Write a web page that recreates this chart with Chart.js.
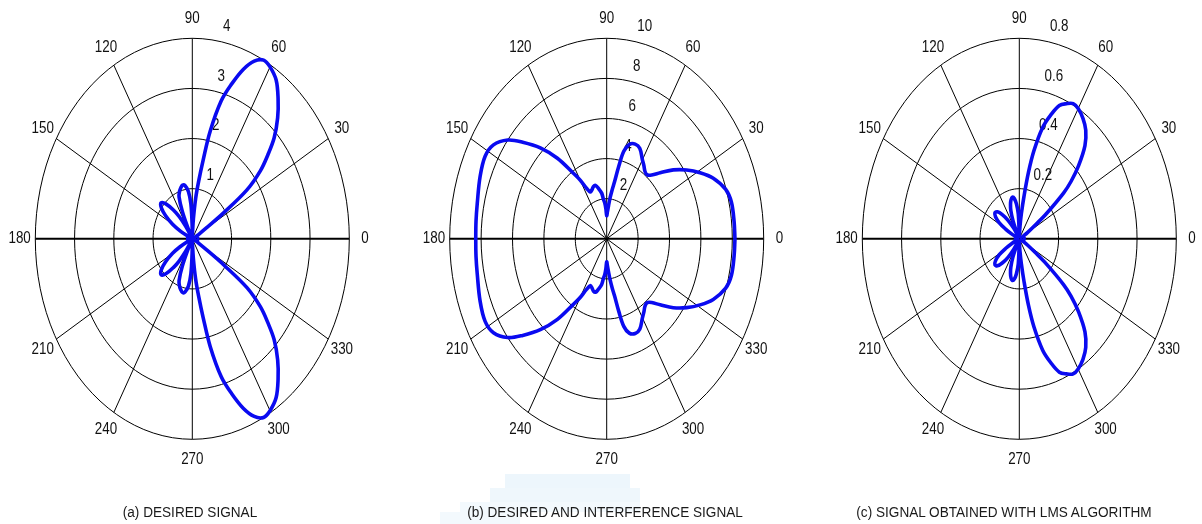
<!DOCTYPE html>
<html><head><meta charset="utf-8">
<script src="https://cdn.jsdelivr.net/npm/chart.js@4.4.0/dist/chart.umd.min.js"></script>
<style>
html,body{margin:0;padding:0;background:#fff;width:1202px;height:524px;overflow:hidden;}
body{position:relative;}
canvas{position:absolute;top:0;}
.cap{position:absolute;top:505px;height:16px;line-height:16px;font-family:"Liberation Sans",Arial,sans-serif;font-size:13.6px;color:#1a1a1a;text-align:center;white-space:nowrap;transform:scaleY(1.1);}
.blk{position:absolute;}
</style></head><body>
<div class="blk" style="left:505px;top:474px;width:125px;height:14px;background:rgba(214,234,248,0.45)"></div>
<div class="blk" style="left:490px;top:488px;width:150px;height:14px;background:rgba(214,234,248,0.4)"></div>
<div class="blk" style="left:460px;top:502px;width:180px;height:10px;background:rgba(222,238,250,0.35)"></div>
<div class="blk" style="left:440px;top:512px;width:80px;height:12px;background:rgba(222,238,250,0.35)"></div>
<canvas id="ca" width="400" height="524" style="left:0px"></canvas>
<canvas id="cb" width="410" height="524" style="left:400px"></canvas>
<canvas id="cc" width="392" height="524" style="left:810px"></canvas>
<div class="cap" style="left:40px;width:300px">(a) DESIRED SIGNAL</div>
<div class="cap" style="left:405px;width:400px">(b) DESIRED AND INTERFERENCE SIGNAL</div>
<div class="cap" style="left:804px;width:400px">(c) SIGNAL OBTAINED WITH LMS ALGORITHM</div>
<script>
// ---- angular tick labels (degrees) ----
const angleTicks = [0,30,60,90,120,150,180,210,240,270,300,330];

// ---- (a) desired signal ----
const ringsA = [1,2,3,4];
const anglesA = [0,6,12,18,24,28,31,33,35,38,41,44,48,52,56,60,63,66,69,72,75,78,80,82,84,86,88,90,91,93,96,100,103,106,109,112,115,118,120,124,127,130,134,138,142,146,150,153,156,159,166,172,180,
  188,194,201,204,207,210,214,218,222,226,230,233,236,240,242,245,248,251,254,257,260,264,267,269,270,272,274,276,278,280,282,285,288,291,294,297,300,304,308,312,316,319,322,325,327,329,332,336,342,348,354,360];
const radiiA = [0.12,0.14,0.1,0.05,0.08,0.18,0.4,0.95,1.7,2.2,2.55,2.9,3.25,3.55,3.82,3.96,4.0,3.88,3.62,3.25,2.85,2.2,1.6,1.15,0.8,0.4,0.1,0.05,0.3,0.7,0.95,1.08,1.1,1.06,1.0,0.9,0.6,0.2,0.05,0.3,0.55,0.75,0.97,1.07,1.0,0.82,0.58,0.35,0.12,0.03,0.1,0.12,0.1,
  0.12,0.1,0.03,0.12,0.35,0.58,0.82,1.0,1.07,0.97,0.75,0.55,0.3,0.05,0.2,0.6,0.9,1.0,1.06,1.1,1.08,0.95,0.7,0.3,0.05,0.1,0.4,0.8,1.15,1.6,2.2,2.85,3.25,3.62,3.88,4.0,3.96,3.82,3.55,3.25,2.9,2.55,2.2,1.7,0.95,0.4,0.18,0.08,0.05,0.1,0.14,0.12];

// ---- (b) desired and interference signal ----
const ringsB = [2,4,6,8,10];
const anglesB = [0,6,13,18,24,29,34,39,44,48,51,54,57,60,65,69,73,76,78,80,82,84,86,88,90,92,94,96,98,102,105,108,111,114,117,120,123,128,133,138,142,147,152,159,168,174,180,
  186,192,201,208,213,218,222,227,232,237,240,243,246,249,252,255,258,262,264,266,268,270,272,274,276,278,280,282,284,287,291,295,300,303,306,309,312,316,321,326,331,336,342,347,354,360];
const radiiB = [8.17,8.16,8.15,7.97,7.43,6.8,6.14,5.46,4.74,4.28,4.1,4.15,4.35,4.55,4.98,5.06,4.92,4.5,3.7,2.9,2.45,2.05,1.65,1.35,1.15,1.5,1.8,1.98,2.3,2.58,2.76,2.74,2.62,2.56,2.83,3.38,3.9,5.1,6.2,7.2,8.0,8.6,8.77,8.64,8.43,8.37,8.34,
  8.37,8.43,8.64,8.77,8.6,8.0,7.2,6.2,5.1,3.9,3.38,2.83,2.56,2.62,2.74,2.76,2.58,2.3,1.98,1.8,1.5,1.15,1.35,1.65,2.05,2.45,2.9,3.7,4.5,4.92,5.06,4.98,4.55,4.35,4.15,4.1,4.28,4.74,5.46,6.14,6.8,7.43,7.97,8.15,8.16,8.17];

// ---- (c) signal obtained with LMS algorithm ----
const ringsC = [0.2,0.4,0.6,0.8];
const anglesC = [0,8,16,22,27,31,34,36,39,41,44,48,52,56,60,63,66,69,72,75,78,80,82,84,86,88,90,93,96,99,102,105,108,111,114,117,120,124,128,132,136,140,144,148,151,154,157,164,172,180,
  188,196,203,206,209,212,216,220,224,228,232,236,240,243,246,249,252,255,258,261,264,267,270,272,274,276,278,280,282,285,288,291,294,297,300,304,308,312,316,319,321,324,326,329,333,338,344,352,360];
const radiiC = [0.02,0.025,0.02,0.01,0.02,0.05,0.1,0.17,0.29,0.35,0.42,0.5,0.55,0.58,0.6,0.605,0.59,0.57,0.52,0.46,0.36,0.27,0.17,0.1,0.05,0.015,0.01,0.1,0.14,0.163,0.17,0.162,0.145,0.12,0.08,0.03,0.01,0.05,0.095,0.13,0.155,0.162,0.15,0.12,0.08,0.04,0.01,0.015,0.02,0.015,
  0.02,0.015,0.01,0.04,0.08,0.12,0.15,0.162,0.155,0.13,0.095,0.05,0.01,0.03,0.08,0.12,0.145,0.162,0.17,0.163,0.14,0.1,0.01,0.015,0.05,0.1,0.17,0.27,0.36,0.46,0.52,0.57,0.59,0.605,0.6,0.58,0.55,0.5,0.42,0.35,0.29,0.17,0.1,0.05,0.02,0.01,0.02,0.025,0.02];

const FONT = '13.4px "Liberation Sans", Arial, sans-serif';
const STRETCH = 1.26;
const D2R = Math.PI / 180;

function toXY(angles, radii) {
  return angles.map((t, i) => ({ x: radii[i] * Math.cos(t * D2R), y: radii[i] * Math.sin(t * D2R) }));
}

function stretchedText(ctx, txt, x, y, align) {
  ctx.save();
  ctx.translate(x, y);
  ctx.scale(1, STRETCH);
  ctx.textAlign = align;
  ctx.textBaseline = 'middle';
  ctx.fillText(txt, 0, 0);
  ctx.restore();
}

const polarGrid = {
  id: 'polarGrid',
  beforeDatasetsDraw(chart, args, opts) {
    const ctx = chart.ctx, sx = chart.scales.x, sy = chart.scales.y;
    const rings = opts.rings, rmax = rings[rings.length - 1];
    const P = (r, t) => [sx.getPixelForValue(r * Math.cos(t * D2R)), sy.getPixelForValue(r * Math.sin(t * D2R))];
    ctx.save();
    ctx.strokeStyle = '#000';
    ctx.lineWidth = 1;
    rings.forEach(r => {
      ctx.beginPath();
      for (let k = 0; k <= 100; k++) {
        const p = P(r, k * 3.6);
        if (k === 0) ctx.moveTo(p[0], p[1]); else ctx.lineTo(p[0], p[1]);
      }
      ctx.closePath();
      ctx.stroke();
    });
    [0, 30, 60, 90, 120, 150].forEach(t => {
      const a = P(rmax, t), b = P(rmax, t + 180);
      ctx.lineWidth = t === 0 ? 2 : 1;
      ctx.beginPath(); ctx.moveTo(a[0], a[1]); ctx.lineTo(b[0], b[1]); ctx.stroke();
    });
    // radial tick labels
    ctx.fillStyle = '#111';
    ctx.font = FONT;
    const rinc = rings[1] - rings[0];
    rings.forEach(r => {
      const p = P(r + rinc / 20, 82);
      stretchedText(ctx, String(r), p[0] + 8.5, p[1] - 11.5, 'left');
    });
    // angle labels
    angleTicks.forEach(t => {
      const p = P(rmax * 1.1, t);
      stretchedText(ctx, String(t), p[0], p[1], 'center');
    });
    ctx.restore();
  }
};

function makeChart(id, angles, radii, rings, pad) {
  const rmax = rings[rings.length - 1];
  new Chart(document.getElementById(id), {
    type: 'scatter',
    data: { datasets: [{ data: toXY(angles, radii), showLine: true, borderColor: '#0a0af0', borderWidth: 3.6,
      pointRadius: 0, tension: 0.35, fill: false, clip: false }] },
    options: {
      responsive: false, animation: false,
      layout: { padding: pad },
      scales: {
        x: { type: 'linear', min: -rmax, max: rmax, display: false },
        y: { type: 'linear', min: -rmax, max: rmax, display: false }
      },
      plugins: { legend: { display: false }, tooltip: { enabled: false }, polarGrid: { rings: rings } }
    },
    plugins: [polarGrid]
  });
}

// chart areas: rx 157, ry 200.5 around each centre
makeChart('ca', anglesA, radiiA, ringsA, { left: 35.3, right: 50.7, top: 38.3, bottom: 84.7 });
makeChart('cb', anglesB, radiiB, ringsB, { left: 49.7, right: 46.3, top: 38.3, bottom: 84.7 });
makeChart('cc', anglesC, radiiC, ringsC, { left: 52.3, right: 25.7, top: 38.3, bottom: 84.7 });
</script>
</body></html>
